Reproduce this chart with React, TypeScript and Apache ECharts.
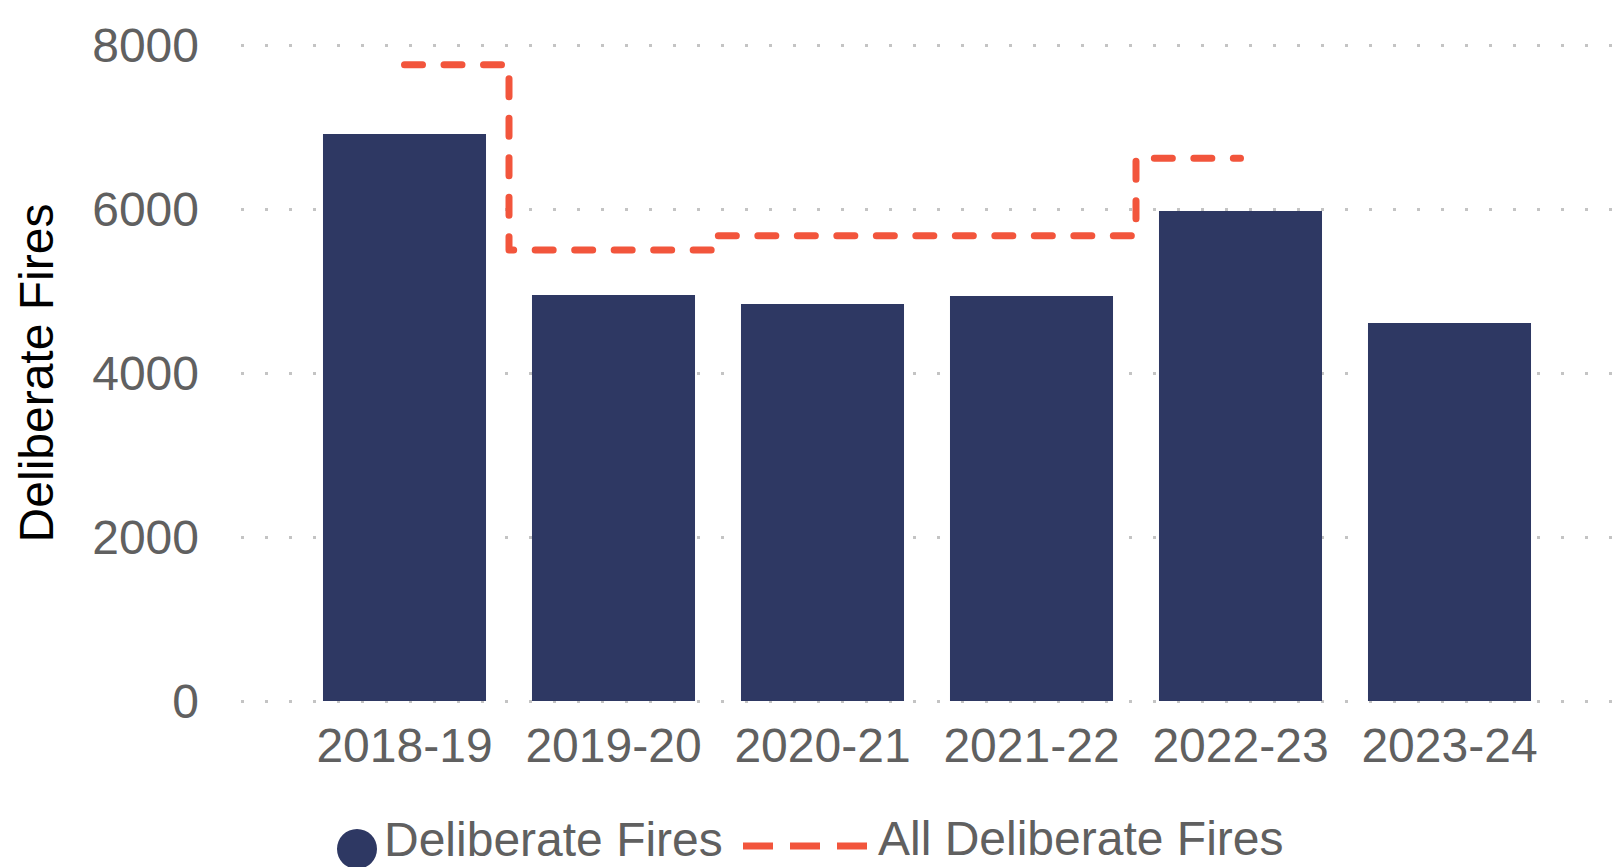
import React, { useEffect, useRef } from "react";
import * as echarts from "echarts";

const categories = ["2018-19", "2019-20", "2020-21", "2021-22", "2022-23", "2023-24"];
const deliberateFires = [6915, 4950, 4840, 4940, 5975, 4610];
// No value for 2023-24
const allDeliberateFires = [7760, 5500, 5675, 5675, 6620];
const yTicks = { min: 0, max: 8000, interval: 2000 };

const FONT = "'Liberation Sans', Arial, sans-serif";
const NAVY = "#2e3863";
const ORANGE = "#f2553c";
const GREY = "#606060";

// legend icons (invisible anchor points fix the icon's box)
const CIRCLE_ICON =
  "path://M20,0L20,0.01M0,39A20,20 0 1,0 40,39A20,20 0 1,0 0,39Z";
const DASH_ICON =
  "path://M0,0L0,0.01M0,24.5h30v7h-30zM47,24.5h30v7h-30zM94,24.5h30v7h-30zM124,40L124,39.99";

export default function App() {
  const ref = useRef<HTMLDivElement>(null);
  useEffect(() => {
    if (!ref.current) return;
    const chart = echarts.init(ref.current, undefined, { renderer: "svg" });
    chart.setOption({
      animation: false,
      textStyle: { fontFamily: FONT },
      grid: [
        { left: 241, right: 3, top: 45, bottom: 166 },
        { left: 300, right: 62, top: 45, bottom: 166 },
      ],
      xAxis: [
        { type: "category", gridIndex: 0, data: categories, show: false },
        {
          type: "category",
          gridIndex: 1,
          data: categories,
          axisLine: { show: false },
          axisTick: { show: false },
          axisLabel: { color: GREY, fontSize: 48, fontFamily: FONT, margin: 20, interval: 0 },
        },
      ],
      yAxis: [
        {
          type: "value",
          gridIndex: 0,
          min: yTicks.min,
          max: yTicks.max,
          interval: yTicks.interval,
          name: "Deliberate Fires",
          nameLocation: "middle",
          nameGap: 181,
          nameTextStyle: { color: "#000", fontSize: 48, fontFamily: FONT },
          axisLine: { show: false },
          axisTick: { show: false },
          axisLabel: {
            color: GREY,
            fontSize: 48,
            fontFamily: FONT,
            margin: 42,
            formatter: (v: number) => String(v),
          },
          splitLine: {
            show: true,
            lineStyle: { color: "#c4c4c4", width: 3, type: [3, 21] },
          },
        },
        {
          type: "value",
          gridIndex: 1,
          min: yTicks.min,
          max: yTicks.max,
          interval: yTicks.interval,
          show: false,
          splitLine: { show: false },
        },
      ],
      legend: [
        {
          data: [{ name: "Deliberate Fires", icon: CIRCLE_ICON }],
          left: 337,
          top: 810,
          itemWidth: 40,
          itemHeight: 59,
          itemGap: 0,
          padding: 0,
          textStyle: { color: GREY, fontSize: 48, lineHeight: 40, fontFamily: FONT, padding: [0, 0, 0, 2] },
        },
        {
          data: [{ name: "All Deliberate Fires", icon: DASH_ICON }],
          left: 743,
          top: 814,
          itemWidth: 124,
          itemHeight: 40,
          itemGap: 0,
          padding: 0,
          textStyle: { color: GREY, fontSize: 48, lineHeight: 40, fontFamily: FONT, padding: [0, 0, 0, 6] },
        },
      ],
      series: [
        {
          name: "Deliberate Fires",
          type: "bar",
          xAxisIndex: 1,
          yAxisIndex: 1,
          data: deliberateFires,
          barCategoryGap: "22%",
          itemStyle: { color: NAVY },
        },
        {
          name: "All Deliberate Fires",
          type: "line",
          xAxisIndex: 1,
          yAxisIndex: 1,
          data: allDeliberateFires,
          step: "middle",
          showSymbol: false,
          symbol: "none",
          itemStyle: { color: ORANGE },
          lineStyle: { color: ORANGE, width: 7, type: [18, 21.5], cap: "round", join: "round" },
        },
      ],
    });
    return () => chart.dispose();
  }, []);
  return (
    <div
      ref={ref}
      style={{ position: "absolute", left: 0, top: 0, width: 1616, height: 867 }}
    />
  );
}
